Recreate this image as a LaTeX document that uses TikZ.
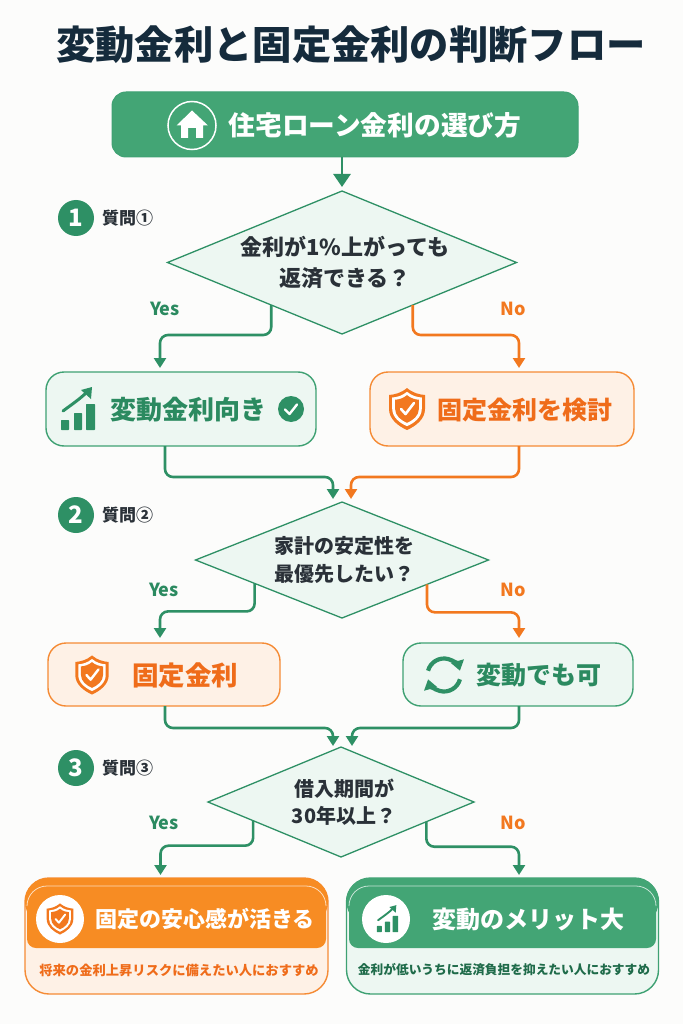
\documentclass[tikz,border=0pt]{standalone}
\usepackage{fontspec}
\setmainfont{Noto Sans CJK JP}
\usetikzlibrary{arrows.meta,shapes.geometric,calc}
\definecolor{bgc}{HTML}{FCFCFB}
\definecolor{titlec}{HTML}{152B3C}
\definecolor{gfill}{HTML}{43A575}
\definecolor{gline}{HTML}{3FA173}
\definecolor{garrow}{HTML}{2E9065}
\definecolor{gtext}{HTML}{2B8A60}
\definecolor{gdark}{HTML}{1F6B4A}
\definecolor{glight}{HTML}{EDF7F2}
\definecolor{ofill}{HTML}{F78C23}
\definecolor{oline}{HTML}{F58B35}
\definecolor{oarrow}{HTML}{F2781F}
\definecolor{otext}{HTML}{EF6C1A}
\definecolor{olight}{HTML}{FEF1E6}
\definecolor{darktext}{HTML}{2A3138}
\newcommand{\fs}[1]{\fontsize{#1pt}{#1pt}\selectfont}
\newcommand{\shieldicon}[5]{%
 \begin{scope}[shift={(#1,#2)},scale=#3]
  \def\shpath{(0,-21) .. controls (-6,-16) and (-12,-14.5) .. (-18,-14) -- (-18,0) .. controls (-18,10) and (-9,17) .. (0,21) .. controls (9,17) and (18,10) .. (18,0) -- (18,-14) .. controls (12,-14.5) and (6,-16) .. (0,-21) -- cycle}
  \fill[#4] \shpath;
  \begin{scope}[scale=.82]\fill[white] \shpath;\end{scope}
  \begin{scope}[scale=.66]\fill[#4] \shpath;\end{scope}
  \draw[#5,line width=#3*2.6pt,line cap=round,line join=round] (-6,0) -- (-1.5,5) -- (7,-6);
 \end{scope}}
\newcommand{\charticon}[4]{%
 \begin{scope}[shift={(#1,#2)},scale=#3]
  \fill[#4,rounded corners=.6] (-17,11) rectangle (-9,21);
  \fill[#4,rounded corners=.6] (-4,4) rectangle (4,21);
  \fill[#4,rounded corners=.6] (8,-5) rectangle (17,21);
  \draw[#4,line width=#3*3pt,line cap=round] (-15,2) .. controls (-7,-4) and (2,-10) .. (9,-17);
  \fill[#4] (14,-22) -- (13,-10) -- (3,-19) -- cycle;
 \end{scope}}
\tikzset{
 boxg/.style={draw=gline,fill=glight,line width=1.4pt,rounded corners=18pt,inner sep=0pt,outer sep=0pt},
 boxo/.style={draw=oline,fill=olight,line width=1.4pt,rounded corners=18pt,inner sep=0pt,outer sep=0pt},
 qd/.style={diamond,draw=garrow,fill=glight,line width=1.3pt,inner sep=0pt,outer sep=0pt,align=center,text=darktext,font=\bfseries},
 badge/.style={circle,fill=garrow,text=white,minimum size=36pt,inner sep=0pt,font=\fs{24}\bfseries},
 qlabel/.style={text=darktext,font=\fs{17}\bfseries,anchor=west,inner sep=0pt},
 yeslab/.style={text=gtext,font=\fs{18}\bfseries,inner sep=0pt},
 nolab/.style={text=oarrow,font=\fs{18}\bfseries,inner sep=0pt},
 gflow/.style={draw=garrow,line width=2.6pt,rounded corners=8pt,-{Triangle[length=10pt,width=12pt]}},
 oflow/.style={draw=oarrow,line width=2.6pt,rounded corners=8pt,-{Triangle[length=10pt,width=12pt]}},
 gtxt/.style={text=gtext,font=\bfseries,inner sep=0pt},
 otxt/.style={text=otext,font=\bfseries,inner sep=0pt},
}
\begin{document}
\begin{tikzpicture}[x=1pt,y=-1pt]
\fill[bgc] (0,0) rectangle (683,1024);
\path[use as bounding box] (0,0) rectangle (683,1024);
% title
\node[text=titlec,font=\fs{39.3}\bfseries,inner sep=0pt] (title) at (351,45) {変動金利と固定金利の判断フロー};
% header
\node[fill=gfill,draw=gline,line width=1pt,rounded corners=14pt,minimum width=466pt,minimum height=65pt,inner sep=0pt,outer sep=0pt] (head) at (345,124.5) {};
\node[circle,draw=white,line width=1.5pt,minimum size=48pt,inner sep=0pt] (homering) at (192,125.5) {};
\fill[white] (192,110.5) -- (208,125.5) -- (203,125.5) -- (203,138) -- (196,138) -- (196,128) -- (188,128) -- (188,138) -- (181,138) -- (181,125.5) -- (176.5,125.5) -- cycle;
\node[text=white,font=\fs{26.7}\bfseries,inner sep=0pt] (headt) at (375,125) {住宅ローン金利の選び方};
% q1
\node[badge] (n1) at (76,218) {1};
\node[qlabel] (q1) at (102,218) {質問①};
\node[qd,minimum width=349pt,minimum height=143pt,shape aspect=2.44] (d1) at (342,262.5) {\fs{22}\hspace{6pt}金利が1\%上がっても\\[9pt]\fs{22}\hspace{6pt}返済できる？};
\draw[draw=garrow,line width=2.6pt,-{Triangle[length=13pt,width=17pt]}] ([xshift=-3pt]head.south) -- ([yshift=4pt]d1.north);
\node[yeslab] (y1) at (165,309) {Yes};
\node[nolab] (no1) at (513,309) {No};
\node[boxg,minimum width=270pt,minimum height=74pt] (b1) at (181,409) {};
\node[boxo,minimum width=264pt,minimum height=74pt] (b2) at (502,409) {};
\draw[gflow] (d1.211) -- ++(0,30) -| ([xshift=-21pt,yshift=4pt]b1.north);
\draw[oflow] (d1.329) -- ++(0,30) -| ([xshift=17pt,yshift=4pt]b2.north);
\charticon{78}{409}{1}{garrow}
\node[gtxt,font=\fs{26}\bfseries] (b1t) at (188,410) {変動金利向き};
\node[circle,fill=garrow,minimum size=26pt,inner sep=0pt] (ok) at (291,409) {};
\draw[white,line width=2.4pt,line cap=round,line join=round] (285,409.5) -- (289.5,414) -- (297,404.5);
\shieldicon{407}{409}{1}{oarrow}{white}
\node[otxt,font=\fs{25}\bfseries] (b2t) at (525,410) {固定金利を検討};
% q2
\node[badge] (n2) at (76,515) {2};
\node[qlabel] (q2) at (102,515) {質問②};
\node[qd,minimum width=293pt,minimum height=116pt,shape aspect=2.52] (d2) at (342,560) {\fs{20}\hspace{4pt}家計の安定性を\\[8pt]\fs{20}\hspace{4pt}最優先したい？};
\draw[gflow] ([xshift=-16pt]b1.south) |- ++(40,31) -| ([xshift=-9pt,yshift=3pt]d2.north);
\draw[oflow] ([xshift=17pt]b2.south) |- ++(-40,31) -| ([xshift=9pt,yshift=3pt]d2.north);
\node[yeslab] (y2) at (164,590) {Yes};
\node[nolab] (no2) at (513,590) {No};
\node[boxo,minimum width=232pt,minimum height=63pt] (b3) at (164,674.5) {};
\node[boxg,minimum width=230pt,minimum height=63pt] (b4) at (518,674.5) {};
\draw[gflow] (d2.195) -- ++(0,28) -| ([xshift=-4pt,yshift=5pt]b3.north);
\draw[oflow] (d2.344) -- ++(0,28) -| ([xshift=1pt,yshift=5pt]b4.north);
\shieldicon{92}{675}{.93}{oarrow}{white}
\node[otxt,font=\fs{26.5}\bfseries] (b3t) at (185,675) {固定金利};
\draw[garrow,line width=4.2pt,-{Triangle[length=10pt,width=13pt]}] (444,675) ++(195:16.5) arc (195:345:16.5);
\draw[garrow,line width=4.2pt,-{Triangle[length=10pt,width=13pt]}] (444,675) ++(15:16.5) arc (15:165:16.5);
\node[gtxt,font=\fs{25}\bfseries] (b4t) at (539,675) {変動でも可};
% q3
\node[badge] (n3) at (76,768) {3};
\node[qlabel] (q3) at (102,768) {質問③};
\node[qd,minimum width=266pt,minimum height=110pt,shape aspect=2.42] (d3) at (341,802) {\fs{20}\hspace{6pt}借入期間が\\[7pt]\fs{20}\hspace{6pt}30年以上？};
\draw[gflow] ([xshift=1pt]b3.south) |- ++(40,22) -| ([xshift=-8pt,yshift=1pt]d3.north);
\draw[gflow] ([xshift=1pt]b4.south) |- ++(-40,22) -| ([xshift=11pt,yshift=1pt]d3.north);
\node[yeslab] (y3) at (164,823) {Yes};
\node[nolab] (no3) at (513,823) {No};
% results
\node[draw=oline,fill=olight,line width=1.4pt,rounded corners=24pt,minimum width=303pt,minimum height=116pt,inner sep=0pt,outer sep=0pt] (r1) at (176.5,936) {};
\node[draw=gline,fill=glight,line width=1.4pt,rounded corners=24pt,minimum width=312pt,minimum height=116pt,inner sep=0pt,outer sep=0pt] (r2) at (502.5,936) {};
\draw[gflow] (d3.192.7) -- ++(0,25) -| ([xshift=-16pt,yshift=3pt]r1.north);
\draw[gflow] (d3.347.7) -- ++(0,25) -| ([xshift=16.5pt,yshift=3pt]r2.north);
\fill[ofill,rounded corners=23pt] (25,878) rectangle (328,925);
\fill[ofill,rounded corners=9pt] (27,890) rectangle (326,948);
\draw[white!70!ofill,line width=.8pt,rounded corners=20pt] (27,906) -- (27,886) -- (326,886) -- (326,906);
\node[circle,fill=white,minimum size=48pt,inner sep=0pt] (c1) at (60,919) {};
\shieldicon{60}{919}{.74}{oarrow}{white}
\node[text=white,font=\fs{22}\bfseries,inner sep=0pt] (r1t) at (205,919) {固定の安心感が活きる};
\node[otxt,font=\fs{13.3}\bfseries] (r1s) at (179,970) {将来の金利上昇リスクに備えたい人におすすめ};
\fill[gfill,rounded corners=23pt] (346.5,878) rectangle (658.5,925);
\fill[gfill,rounded corners=9pt] (349,890) rectangle (656,948);
\draw[white!70!gfill,line width=.8pt,rounded corners=20pt] (349,906) -- (349,886) -- (656,886) -- (656,906);
\node[circle,fill=white,minimum size=48pt,inner sep=0pt] (c2) at (386,919) {};
\charticon{387.5}{919}{.63}{garrow}
\node[text=white,font=\fs{24}\bfseries,inner sep=0pt] (r2t) at (528,919) {変動のメリット大};
\node[text=gdark,font=\fs{12.7}\bfseries,inner sep=0pt] (r2s) at (504,970) {金利が低いうちに返済負担を抑えたい人におすすめ};
\end{tikzpicture}
\end{document}
